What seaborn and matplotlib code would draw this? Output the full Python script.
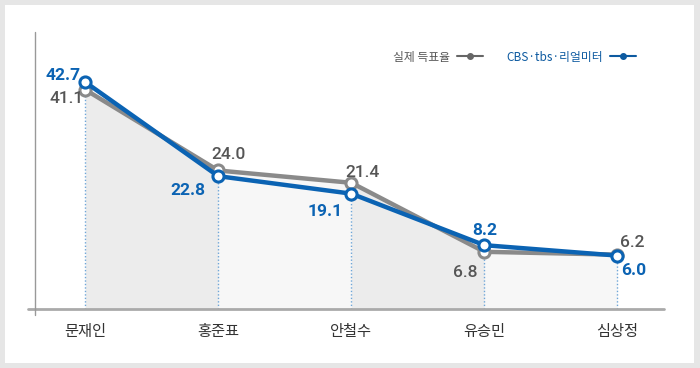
import matplotlib
matplotlib.use("Agg")
import matplotlib.pyplot as plt
from matplotlib.lines import Line2D
from matplotlib.patches import Rectangle
import seaborn as sns
import numpy as np
import pandas as pd

candidates = ['문재인', '홍준표', '안철수', '유승민', '심상정']
actual = [41.1, 24.0, 21.4, 6.8, 6.2]
poll = [42.7, 22.8, 19.1, 8.2, 6.0]
actual_name = '실제 득표율'
poll_name = 'CBS·tbs·리얼미터'

GRAY = '#8a8a8a'
BLUE = '#0b63b3'

sns.set_theme(style='white')
plt.rcParams['font.family'] = ['Noto Sans CJK KR', 'DejaVu Sans']

W, H = 700, 368
fig = plt.figure(figsize=(7, 3.68), dpi=100, facecolor='#e6e6e6')
fig.patches.append(Rectangle((5 / W, 1 - 363 / H), 689 / W, 358 / H,
                             transform=fig.transFigure, facecolor='white',
                             edgecolor='none', zorder=-10))

# axes box in pixel coords: x 28..664, y 32..309
ax = fig.add_axes([28 / W, 1 - 309 / H, 636 / W, 277 / H])
ax.patch.set_alpha(0)
ymin, ymax = -5.3, 53.3
ax.set_xlim(-0.43, 4.35)
ax.set_ylim(ymin, ymax)

x = np.arange(len(candidates))
df = pd.DataFrame({'x': np.concatenate([x, x]),
                   'value': actual + poll,
                   'series': [actual_name] * 5 + [poll_name] * 5})

# shaded bands under the actual line
band_colors = ['#ececec', '#f7f7f7']
for i in range(len(x) - 1):
    ax.fill_between(x[i:i + 2], actual[i:i + 2], ymin,
                    color=band_colors[i % 2], lw=0, zorder=1)

# dotted guides
for xi, a, p in zip(x, actual, poll):
    ax.plot([xi, xi], [ymin, min(a, p)], color='#6fa6d8', lw=1,
            ls=(0, (1, 1.5)), zorder=2)

sns.lineplot(data=df, x='x', y='value', hue='series',
             palette={actual_name: GRAY, poll_name: BLUE},
             hue_order=[actual_name, poll_name],
             marker='o', markersize=8, markerfacecolor='white',
             markeredgewidth=2.2, lw=3.2, legend=False, ax=ax, zorder=4)
for ln, c in zip(ax.lines[-2:], [GRAY, BLUE]):
    ln.set_markeredgecolor(c)
ax.lines[-1].set_zorder(5)

# value labels: offsets of the text centre from the point, in pixels
pt = 0.72
half_cap = 6.2
gray_off = [(-19, -7), (10, 17.5), (11, 12), (-19, -19), (15, 13.5)]
blue_off = [(-22, 8), (-30, -13), (-26, -16), (0, 16.5), (16, -13.5)]
num_font = ['Roboto', 'DejaVu Sans']
for xi, v, (dx, dy) in zip(x, actual, gray_off):
    ax.annotate(f'{v:.1f}', (xi, v), xytext=(dx * pt, (dy - half_cap) * pt),
                textcoords='offset points', ha='center', va='baseline',
                color='#555555', fontsize=12.5, fontweight='medium',
                family=num_font, zorder=6)
for xi, v, (dx, dy) in zip(x, poll, blue_off):
    ax.annotate(f'{v:.1f}', (xi, v), xytext=(dx * pt, (dy - half_cap) * pt),
                textcoords='offset points', ha='center', va='baseline',
                color=BLUE, fontsize=12.5, fontweight='bold', family=num_font,
                zorder=6)

# axes lines
for s in ax.spines.values():
    s.set_visible(False)
ax.axhline(ymin, color='#aaaaaa', lw=2, zorder=3, clip_on=False)
ax.add_line(Line2D([-0.376, -0.376], [ymin - 1.3, ymax], color='#999999',
                   lw=1, clip_on=False, zorder=3))

ax.set_xticks(x)
ax.set_xticklabels(candidates, fontsize=11, color='#333333')
ax.tick_params(axis='x', length=0, pad=10)
ax.set_yticks([])
ax.set_xlabel('')
ax.set_ylabel('')

# legend
handles = [Line2D([], [], color='#666666', lw=1.5, marker='o', markersize=4),
           Line2D([], [], color='#0d5aa0', lw=1.5, marker='o', markersize=4)]
leg = ax.legend(handles, [actual_name, poll_name], ncol=2, markerfirst=False,
                frameon=False, fontsize=8.5, handlelength=2.2,
                columnspacing=1.95, handletextpad=0.6,
                borderpad=0, borderaxespad=0,
                loc='center left', bbox_to_anchor=(393 / W, 1 - 57 / H),
                bbox_transform=fig.transFigure)
for t, c in zip(leg.get_texts(), ['#555555', '#0d5aa0']):
    t.set_color(c)

fig.savefig('out.png', dpi=100, facecolor=fig.get_facecolor())
